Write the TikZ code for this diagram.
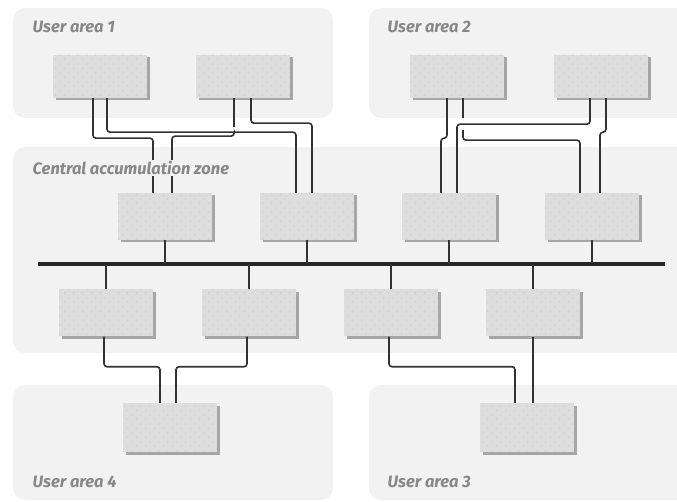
\documentclass[tikz,border=0pt]{standalone}
\usepackage{fontspec}
\setsansfont{Fira Sans}
\usepackage{tikz}
\usetikzlibrary{calc,shadows,patterns.meta}
\definecolor{zonegray}{RGB}{242,242,242}
\definecolor{boxgray}{RGB}{221,221,221}
\definecolor{wiregray}{RGB}{50,50,50}
\definecolor{labelgray}{RGB}{135,135,135}
\tikzdeclarepattern{name=sparsedots,type=uncolored,
  bounding box={(0,0) and (9pt,9pt)},tile size={(9pt,9pt)},
  code={\fill (2pt,2pt) circle (0.55pt); \fill (6.5pt,6.5pt) circle (0.55pt);}}

\begin{document}
\begin{tikzpicture}[x=1pt,y=-1pt,
  zone/.style={fill=zonegray,rounded corners=12pt},
  zlabel/.style={anchor=west,text=labelgray,inner sep=1.5pt,fill=zonegray,font=\sffamily\bfseries\itshape\fontsize{16.5}{16.5}\selectfont},
  unit/.style={fill=boxgray,postaction={pattern=sparsedots,pattern color=gray!55},
    minimum width=94pt,minimum height=47pt,inner sep=0pt,
    drop shadow={shadow xshift=2.5pt,shadow yshift=-2.5pt,fill=gray!70,opacity=1}},
  wire/.style={draw=wiregray,line width=1.6pt,rounded corners=3pt},
  bus/.style={draw=black!85,line width=3.6pt}
]
\clip (0,0) rectangle (677,502);
% Zones
\fill[zone] (13,8)    rectangle (333,118);
\fill[zone] (369,8)   rectangle (700,118);
\fill[zone] (13,147)  rectangle (700,353);
\fill[zone] (13,385)  rectangle (333,500);
\fill[zone] (369,385) rectangle (700,500);

% User areas 1 and 2
\node[unit,minimum height=43pt] (b1) at (100,76.5) {};
\node[unit,minimum height=43pt] (b2) at (243,76.5) {};
\node[unit,minimum height=43pt] (b3) at (457,76.5) {};
\node[unit,minimum height=43pt] (b4) at (601,76.5) {};
% Central zone
\node[unit] (c1) at (165,216.5) {};
\node[unit] (c2) at (307,216.5) {};
\node[unit] (c3) at (449,216.5) {};
\node[unit] (c4) at (592,216.5) {};
\node[unit] (d1) at (106,313)   {};
\node[unit] (d2) at (249,313)   {};
\node[unit] (d3) at (391,313)   {};
\node[unit] (d4) at (533,313)   {};
% User areas 4 and 3
\node[unit,minimum height=49pt] (e4) at (170,427.5) {};
\node[unit,minimum height=49pt] (e3) at (527,427.5) {};

% Backbone
\coordinate (busL) at (38,264);
\coordinate (busR) at (665,264);
\draw[bus] (busL) -- (busR);
\foreach \n in {c1,c2,c3,c4}
  \draw[wire] (\n.south) -- (\n.south |- busL);
\foreach \n in {d1,d2,d3,d4}
  \draw[wire] (\n.north) -- (\n.north |- busL);

% Wiring from user area 1
\draw[wire] ([xshift=-9pt]b2.south) -- ++(0,29) ++(0,7) -- ++(0,2) -| ([xshift=7pt]c1.north);
\draw[wire] ([xshift=-7pt]b1.south) -- ++(0,40) -| ([xshift=-12pt]c1.north);
\draw[wire] ([xshift=7pt]b1.south) -- ++(0,34) -| ([xshift=-11pt]c2.north);
\draw[wire] ([xshift=8pt]b2.south) -- ++(0,25) -| ([xshift=5pt]c2.north);

% Wiring from user area 2
\draw[wire] ([xshift=-10pt]b3.south) -- ++(0,40) -| ([xshift=-8pt]c3.north);
\draw[wire] ([xshift=6pt]b3.south) -- ++(0,20) ++(0,12) -- ++(0,10) -| ([xshift=-12pt]c4.north);
\draw[wire] ([xshift=-11pt]b4.south) -- ++(0,26) -| ([xshift=8pt]c3.north);
\draw[wire] ([xshift=5pt]b4.south) -- ++(0,34) -| ([xshift=8pt]c4.north);

% Wiring to user areas 4 and 3
\draw[wire] ([xshift=-2pt]d1.south) -- ++(0,30) -| ([xshift=-10pt]e4.north);
\draw[wire] ([xshift=-2pt]d2.south) -- ++(0,30) -| ([xshift=6pt]e4.north);
\draw[wire] ([xshift=-2pt]d3.south) -- ++(0,30) -| ([xshift=-12pt]e3.north);
\draw[wire] (d4.south) -- (d4.south |- e3.north);

% Labels
\node[zlabel] (l1) at (31,27)  {User area 1};
\node[zlabel] (l2) at (386,27) {User area 2};
\node[zlabel] (lc) at (31,168) {Central accumulation zone};
\node[zlabel] (l4) at (31,482) {User area 4};
\node[zlabel] (l3) at (386,482) {User area 3};
\end{tikzpicture}
\end{document}
